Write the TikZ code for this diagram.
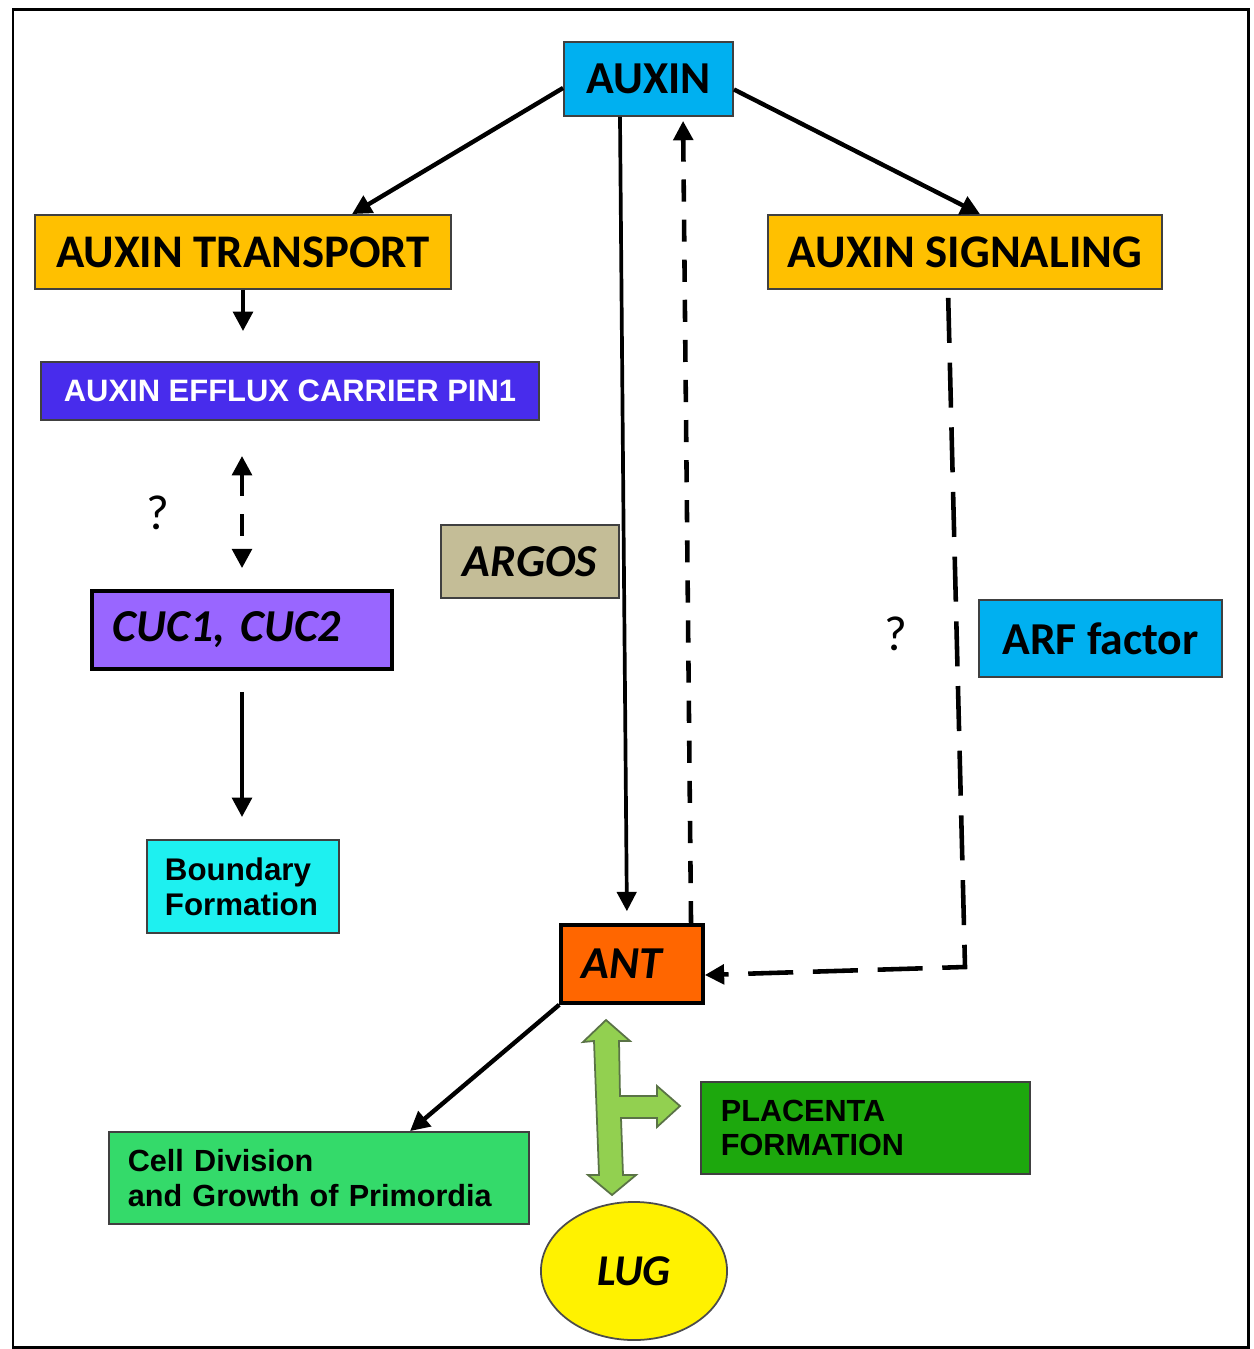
\documentclass[tikz,border=0pt]{standalone}
\usepackage{fontspec}
\setmainfont{Carlito}
\newfontfamily\arialfont{Liberation Sans}
\usetikzlibrary{arrows.meta,shapes.geometric}

\definecolor{auxinblue}{HTML}{00B0F0}
\definecolor{auxinorange}{HTML}{FFC000}
\definecolor{pinviolet}{RGB}{72,44,236}
\definecolor{cucviolet}{HTML}{9966FF}
\definecolor{argostan}{HTML}{C4BD97}
\definecolor{boundcyan}{RGB}{30,240,240}
\definecolor{antorange}{HTML}{FF6600}
\definecolor{cellgreen}{RGB}{52,218,106}
\definecolor{placgreen}{RGB}{29,168,13}
\definecolor{teegreen}{HTML}{92D050}
\definecolor{teeedge}{RGB}{90,115,70}

\begin{document}
\begin{tikzpicture}[x=0.01cm,y=-0.01cm,
  box/.style={draw=black!75,line width=0.5pt,inner sep=0pt,
    font=\bfseries\fontsize{13}{15}\selectfont},
  arialbox/.style={box,align=left,font=\arialfont\bfseries\fontsize{8.7}{9.7}\selectfont},
  arr/.style={line width=1.25pt,-{Triangle[length=5.5pt,width=5.5pt]}},
  dasharr/.style={arr,line width=1.3pt,dash pattern=on 6.3pt off 5.1pt},
  longdash/.style={arr,line width=1.3pt,dash pattern=on 12.8pt off 5.6pt}]
\useasboundingbox (0,0) rectangle (1253,1349);
\draw[line width=0.85pt] (13,10) rectangle (1248,1347);

% boxes
\node[box,fill=auxinblue,minimum width=1.69cm,minimum height=0.74cm] (auxin) at (648.5,79) {AUXIN};
\node[box,fill=auxinorange,minimum width=4.16cm,minimum height=0.74cm,
  font=\bfseries\fontsize{13.3}{15}\selectfont] (transport) at (243,252) {AUXIN TRANSPORT};
\node[box,fill=auxinorange,minimum width=3.94cm,minimum height=0.74cm,
  font=\bfseries\fontsize{13.3}{15}\selectfont] (signaling) at (965,252) {AUXIN SIGNALING};
\node[box,fill=pinviolet,text=white,minimum width=4.98cm,minimum height=0.58cm,
  font=\arialfont\bfseries\fontsize{8.8}{11}\selectfont] (pin) at (290,391) {AUXIN EFFLUX CARRIER PIN1};
\node[box,draw=black,line width=1pt,fill=cucviolet,minimum width=3cm,minimum height=0.78cm,
  text width=2.58cm,align=left,font=\bfseries\itshape\fontsize{13}{15}\selectfont] (cuc) at (242,630) {CUC1, CUC2};
\node[box,fill=argostan,minimum width=1.78cm,minimum height=0.73cm,
  font=\bfseries\itshape\fontsize{13}{15}\selectfont] (argos) at (530,561.5) {ARGOS};
\node[box,fill=auxinblue,minimum width=2.43cm,minimum height=0.77cm] (arf) at (1100.5,638.5) {ARF factor};
\node[arialbox,fill=boundcyan,minimum width=1.92cm,minimum height=0.93cm,
  text width=1.56cm,font=\arialfont\bfseries\fontsize{8.9}{10}\selectfont] (boundary) at (243,886.5) {Boundary\\Formation};
\node[box,draw=black,line width=1pt,fill=antorange,minimum width=1.42cm,minimum height=0.78cm,
  text width=1cm,align=left,font=\bfseries\itshape\fontsize{13}{15}\selectfont] (ant) at (632,964) {ANT};
\node[arialbox,fill=cellgreen,minimum width=4.2cm,minimum height=0.92cm,
  text width=3.82cm] (cell) at (319,1178) {Cell Division\\and Growth of Primordia};
\node[arialbox,fill=placgreen,minimum width=3.29cm,minimum height=0.92cm,
  text width=2.89cm] (placenta) at (865.5,1128) {PLACENTA\\FORMATION};
\node[ellipse,draw=black!70,line width=0.5pt,fill=yellow,minimum width=1.86cm,minimum height=1.38cm,
  inner sep=0pt,font=\bfseries\itshape\fontsize{12.5}{15}\selectfont] (lug) at (634,1271) {LUG};

\node[font=\fontsize{14}{16}\selectfont] (q1) at (158,513) {?};
\node[font=\fontsize{14}{16}\selectfont] (q2) at (896,634) {?};

% connectors
\draw[arr] (auxin.186) -- ([xshift=1.09cm]transport.north);
\draw[arr] (auxin.-7) -- ([xshift=0.15cm]signaling.north);
\draw[arr,line width=1.05pt,shorten >=0.12cm] ([xshift=-0.285cm]auxin.south) -- ([xshift=-0.05cm]ant.north);
\draw[dasharr,shorten >=0.04cm] ([xshift=0.59cm]ant.north) -- ([xshift=0.345cm]auxin.south);
\draw[arr,shorten >=0.3cm] (transport.south) -- (transport.south |- pin.north);
\draw[dasharr,{Triangle[length=5.5pt,width=5.5pt]}-{Triangle[length=5.5pt,width=5.5pt]},
  shorten <=0.35cm,shorten >=0.21cm] (cuc.north |- pin.south) -- (cuc.north);
\draw[arr,shorten <=0.21cm,shorten >=0.22cm] (cuc.south) -- (cuc.south |- boundary.north);
\coordinate (bend) at (965,967);
\draw[longdash,shorten <=0.08cm] ([xshift=-0.17cm]signaling.south) -- (bend) -- ([yshift=-0.11cm]ant.east);
\draw[arr] (ant.south west) -- ([xshift=0.91cm]cell.north);

% ANT <-> LUG and placenta branch
\filldraw[fill=teegreen,draw=teeedge,line width=0.5pt]
  (606,1020) -- (630,1041) -- (619,1041) -- (620,1096) -- (657,1096) -- (657,1086)
  -- (680,1106) -- (657,1127) -- (657,1118) -- (621,1118) -- (623,1175) -- (636,1175)
  -- (612,1195) -- (588,1175) -- (599,1175) -- (594,1041) -- (583,1042) -- cycle;
\end{tikzpicture}
\end{document}
